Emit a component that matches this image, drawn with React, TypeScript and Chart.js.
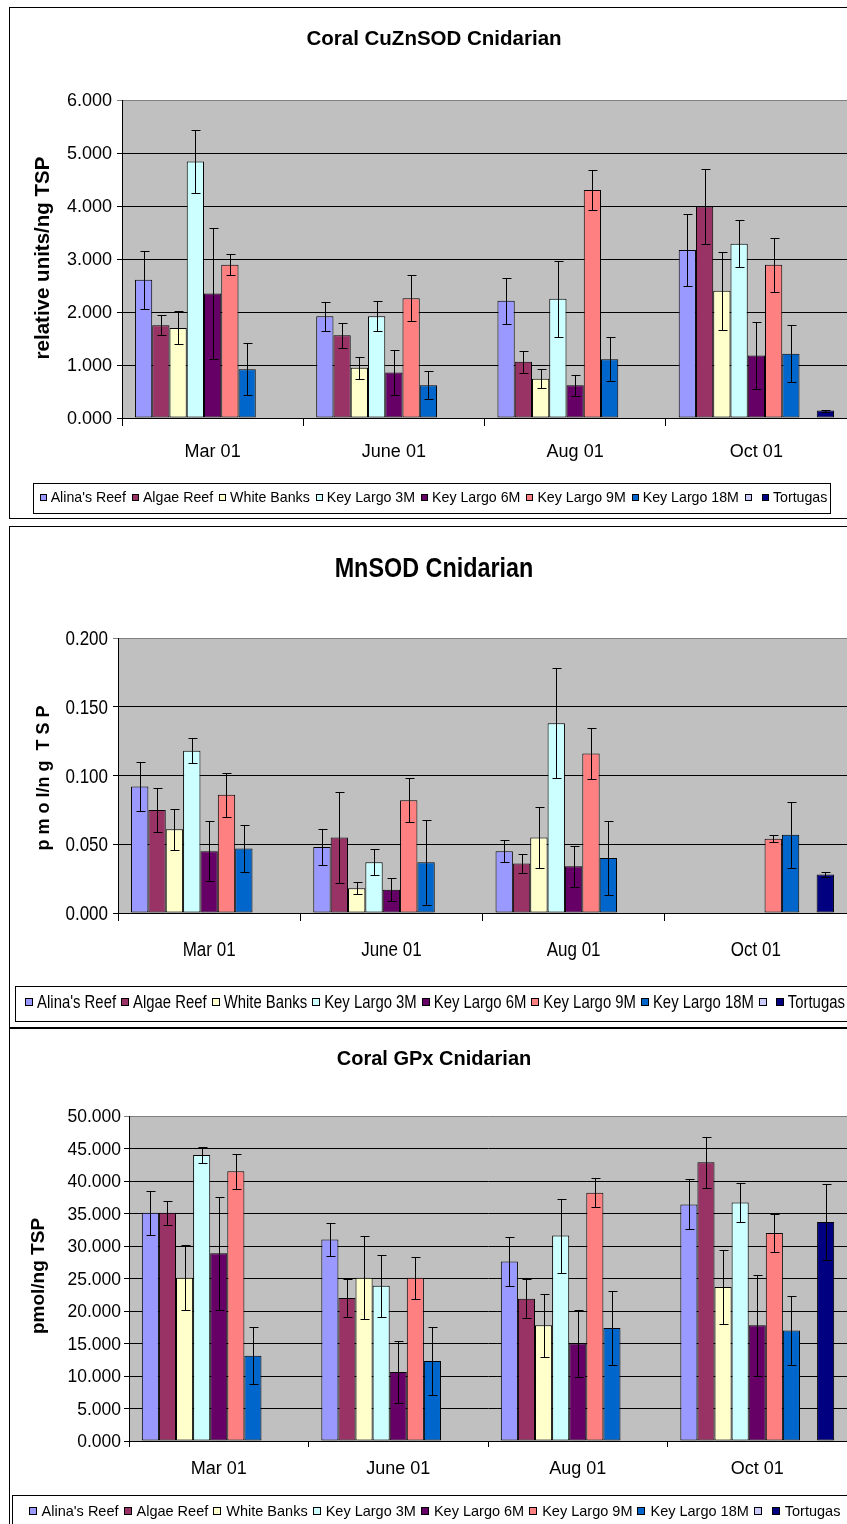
import React, { useEffect, useRef } from 'react';
import { Chart, registerables } from 'chart.js';

Chart.register(...registerables);

// ---------- shared data ----------
const categories = ['Mar 01', 'June 01', 'Aug 01', 'Oct 01'];
const seriesNames = ["Alina's Reef", 'Algae Reef', 'White Banks', 'Key Largo 3M', 'Key Largo 6M', 'Key Largo 9M', 'Key Largo 18M', '', 'Tortugas'];
const seriesColors = ['#9999FF', '#993366', '#FFFFCC', '#CCFFFF', '#660066', '#FF8080', '#0066CC', '#CCCCFF', '#000080'];

// ---------- Coral CuZnSOD Cnidarian ----------
const cuAlina = [2.61, 1.92, 2.21, 3.17];
const cuAlgae = [1.75, 1.56, 1.06, 3.99];
const cuWhite = [1.70, 0.95, 0.74, 2.40];
const cuKL3 = [4.84, 1.92, 2.25, 3.29];
const cuKL6 = [2.35, 0.86, 0.62, 1.18];
const cuKL9 = [2.89, 2.26, 4.30, 2.89];
const cuKL18 = [0.92, 0.62, 1.11, 1.21];
const cuBlank = [null, null, null, null];
const cuTort = [null, null, null, 0.14];
const cuAlinaErr = [0.55, 0.27, 0.43, 0.67];
const cuAlgaeErr = [0.19, 0.24, 0.21, 0.70];
const cuWhiteErr = [0.31, 0.21, 0.18, 0.74];
const cuKL3Err = [0.60, 0.28, 0.72, 0.44];
const cuKL6Err = [1.24, 0.42, 0.20, 0.64];
const cuKL9Err = [0.20, 0.43, 0.38, 0.51];
const cuKL18Err = [0.49, 0.27, 0.42, 0.54];
const cuBlankErr = [null, null, null, null];
const cuTortErr = [null, null, null, 0.02];
const cuTicks = [0, 1, 2, 3, 4, 5, 6];
const cuTickLabels = ['0.000', '1.000', '2.000', '3.000', '4.000', '5.000', '6.000'];

// ---------- MnSOD Cnidarian ----------
const mnAlina = [0.092, 0.048, 0.045, null];
const mnAlgae = [0.075, 0.055, 0.036, null];
const mnWhite = [0.061, 0.018, 0.055, null];
const mnKL3 = [0.118, 0.037, 0.138, null];
const mnKL6 = [0.045, 0.017, 0.034, null];
const mnKL9 = [0.086, 0.082, 0.116, 0.054];
const mnKL18 = [0.047, 0.037, 0.040, 0.057];
const mnBlank = [null, null, null, null];
const mnTort = [null, null, null, 0.028];
const mnAlinaErr = [0.018, 0.013, 0.008, null];
const mnAlgaeErr = [0.016, 0.033, 0.007, null];
const mnWhiteErr = [0.015, 0.0045, 0.022, null];
const mnKL3Err = [0.009, 0.0095, 0.040, null];
const mnKL6Err = [0.022, 0.0085, 0.015, null];
const mnKL9Err = [0.016, 0.016, 0.0185, 0.0025];
const mnKL18Err = [0.017, 0.031, 0.027, 0.024];
const mnBlankErr = [null, null, null, null];
const mnTortErr = [null, null, null, 0.002];
const mnTicks = [0, 0.05, 0.1, 0.15, 0.2];
const mnTickLabels = ['0.000', '0.050', '0.100', '0.150', '0.200'];

// ---------- Coral GPx Cnidarian ----------
const gpAlina = [35.1, 31.0, 27.6, 36.4];
const gpAlgae = [35.1, 22.0, 21.9, 42.9];
const gpWhite = [25.1, 25.1, 17.8, 23.7];
const gpKL3 = [44.0, 23.9, 31.6, 36.7];
const gpKL6 = [28.9, 10.6, 15.0, 17.8];
const gpKL9 = [41.5, 25.1, 38.2, 32.0];
const gpKL18 = [13.1, 12.3, 17.4, 17.0];
const gpBlank = [null, null, null, null];
const gpTort = [null, null, null, 33.7];
const gpAlinaErr = [3.4, 2.6, 3.8, 3.85];
const gpAlgaeErr = [1.8, 2.95, 2.95, 3.9];
const gpWhiteErr = [5.0, 6.4, 4.8, 5.7];
const gpKL3Err = [1.2, 4.75, 5.7, 3.05];
const gpKL6Err = [8.7, 4.75, 5.1, 7.8];
const gpKL9Err = [2.7, 3.2, 2.2, 2.85];
const gpKL18Err = [4.4, 5.2, 5.7, 5.25];
const gpBlankErr = [null, null, null, null];
const gpTortErr = [null, null, null, 5.9];
const gpTicks = [0, 5, 10, 15, 20, 25, 30, 35, 40, 45, 50];
const gpTickLabels = ['0.000', '5.000', '10.000', '15.000', '20.000', '25.000', '30.000', '35.000', '40.000', '45.000', '50.000'];

const FAMILY = "'Liberation Sans', Arial, Helvetica, sans-serif";

type Spec = {
  title: string;
  yTitle: string;
  values: (number | null)[][];
  errs: (number | null)[][];
  ticks: number[];
  tickLabels: string[];
  canvas: { x: number; y: number; w: number; h: number };
  pad: { left: number; top: number; bottom: number };
  hs: number;
  titleFont: string;
  titlePos: [number, number];
  yTitleFont: string;
  yTitleSize: number;
  yTitlePos: [number, number];
  tickSize: number;
  tickGap: number;
  catSize: number;
  catY: number;
  xTickLen: number;
  legend: { size: number; m: number; gap: number; itemGap: number; cx: number; cy: number; box: [number, number, number, number] };
};

function drawText(ctx: CanvasRenderingContext2D, text: string, x: number, y: number, font: string, align: CanvasTextAlign, hs: number) {
  ctx.save();
  ctx.translate(x, y);
  ctx.scale(hs, 1);
  ctx.font = font;
  ctx.textAlign = align;
  ctx.textBaseline = 'alphabetic';
  ctx.fillStyle = '#000';
  ctx.fillText(text, 0, 0);
  ctx.restore();
}

function makeDecor(spec: Spec) {
  return {
    id: 'decor',
    beforeDraw(chart: any) {
      const { ctx, chartArea: a } = chart;
      ctx.save();
      ctx.fillStyle = '#C0C0C0';
      ctx.fillRect(a.left, a.top, a.right - a.left, a.bottom - a.top);
      ctx.restore();
    },
    afterDatasetsDraw(chart: any) {
      const ctx = chart.ctx;
      const ys = chart.scales.y;
      ctx.save();
      ctx.strokeStyle = '#000';
      ctx.lineWidth = 1;
      spec.values.forEach((vals, di) => {
        const meta = chart.getDatasetMeta(di);
        vals.forEach((v, j) => {
          const e = spec.errs[di][j];
          if (v == null || e == null) return;
          const el = meta.data[j];
          const x = Math.round(el.x) + 0.5;
          const y1 = Math.round(ys.getPixelForValue(v + e)) + 0.5;
          const y2 = Math.round(ys.getPixelForValue(Math.max(0, v - e))) + 0.5;
          ctx.beginPath();
          ctx.moveTo(x, y1);
          ctx.lineTo(x, y2);
          ctx.moveTo(x - 4, y1);
          ctx.lineTo(x + 5, y1);
          ctx.moveTo(x - 4, y2);
          ctx.lineTo(x + 5, y2);
          ctx.stroke();
        });
      });
      ctx.restore();
    },
    afterDraw(chart: any) {
      const ctx = chart.ctx;
      const a = chart.chartArea;
      const hs = spec.hs;
      // title
      drawText(ctx, spec.title, spec.titlePos[0], spec.titlePos[1], spec.titleFont, 'center', hs);
      // y title
      ctx.save();
      ctx.translate(spec.yTitlePos[0], spec.yTitlePos[1]);
      ctx.rotate(-Math.PI / 2);
      ctx.font = spec.yTitleFont;
      ctx.textAlign = 'center';
      ctx.textBaseline = 'alphabetic';
      ctx.fillStyle = '#000';
      ctx.fillText(spec.yTitle, 0, spec.yTitleSize * 0.33);
      ctx.restore();
      // y tick labels
      const ys = chart.scales.y;
      spec.ticks.forEach((v, i) => {
        const y = ys.getPixelForValue(v);
        drawText(ctx, spec.tickLabels[i], a.left - spec.tickGap, y + spec.tickSize * 0.358, `${spec.tickSize}px ${FAMILY}`, 'right', hs);
      });
      // category labels
      const xs = chart.scales.x;
      categories.forEach((c, i) => {
        const x = xs.getPixelForTick(i);
        drawText(ctx, c, x, spec.catY + spec.catSize * 0.358, `${spec.catSize}px ${FAMILY}`, 'center', hs);
      });
      // legend
      const L = spec.legend;
      ctx.save();
      ctx.font = `${L.size}px ${FAMILY}`;
      const widths = seriesNames.map((n) => L.m + L.gap + ctx.measureText(n).width * hs);
      const total = widths.reduce((s, w) => s + w, 0) + L.itemGap * (seriesNames.length - 1) - L.gap;
      let x = L.cx - total / 2;
      ctx.restore();
      seriesNames.forEach((n, i) => {
        const mx = Math.round(x);
        const my = Math.round(L.cy - L.m / 2);
        ctx.save();
        ctx.fillStyle = seriesColors[i];
        ctx.fillRect(mx, my, L.m, L.m);
        ctx.strokeStyle = '#000';
        ctx.lineWidth = 1;
        ctx.strokeRect(mx + 0.5, my + 0.5, L.m - 1, L.m - 1);
        ctx.restore();
        if (n) drawText(ctx, n, x + L.m + L.gap, L.cy + L.size * 0.358, `${L.size}px ${FAMILY}`, 'left', hs);
        x += widths[i] + L.itemGap;
      });
      ctx.save();
      ctx.strokeStyle = '#000';
      ctx.lineWidth = 1;
      ctx.strokeRect(L.box[0] + 0.5, L.box[1] + 0.5, L.box[2], L.box[3]);
      ctx.restore();
    },
  };
}

function buildConfig(spec: Spec): any {
  const max = spec.ticks[spec.ticks.length - 1];
  return {
    type: 'bar',
    data: {
      labels: categories,
      datasets: seriesNames.map((name, i) => ({
        label: name,
        data: spec.values[i],
        backgroundColor: seriesColors[i],
        borderColor: '#000',
        borderWidth: 1,
        borderSkipped: false,
        categoryPercentage: 0.857,
        barPercentage: 1,
      })),
    },
    options: {
      responsive: false,
      maintainAspectRatio: false,
      animation: false,
      events: [],
      layout: { padding: { left: spec.pad.left, top: spec.pad.top, right: 0, bottom: spec.pad.bottom } },
      plugins: { legend: { display: false }, title: { display: false }, tooltip: { enabled: false } },
      scales: {
        x: {
          type: 'category',
          offset: true,
          grid: { offset: true, drawOnChartArea: false, drawTicks: true, tickLength: spec.xTickLen, color: '#000', lineWidth: 1 },
          border: { display: true, color: '#000', width: 1 },
          ticks: { display: false },
          afterFit: (s: any) => { s.height = 30; },
        },
        y: {
          min: 0,
          max,
          afterBuildTicks: (s: any) => { s.ticks = spec.ticks.map((v) => ({ value: v })); },
          grid: {
            drawTicks: true,
            tickLength: 5,
            lineWidth: 1,
            color: (c: any) => (c.tick && Math.abs(c.tick.value - max) < 1e-9 ? '#808080' : '#000'),
          },
          border: { display: true, color: '#000', width: 1 },
          ticks: { display: false },
          afterFit: (s: any) => { s.width = 40; },
        },
      },
    },
    plugins: [makeDecor(spec)],
  };
}

const specs: Spec[] = [
  {
    title: 'Coral CuZnSOD Cnidarian',
    yTitle: 'relative units/ng TSP',
    values: [cuAlina, cuAlgae, cuWhite, cuKL3, cuKL6, cuKL9, cuKL18, cuBlank, cuTort],
    errs: [cuAlinaErr, cuAlgaeErr, cuWhiteErr, cuKL3Err, cuKL6Err, cuKL9Err, cuKL18Err, cuBlankErr, cuTortErr],
    ticks: cuTicks,
    tickLabels: cuTickLabels,
    canvas: { x: 10, y: 8, w: 837, h: 510 },
    pad: { left: 72, top: 92, bottom: 70 },
    hs: 1,
    titleFont: `bold 20.5px ${FAMILY}`,
    titlePos: [424, 30 + 7],
    yTitleFont: `bold 20.5px ${FAMILY}`,
    yTitleSize: 20.5,
    yTitlePos: [32, 250],
    tickSize: 18,
    tickGap: 10,
    catSize: 18,
    catY: 443,
    xTickLen: 8,
    legend: { size: 14.2, m: 7, gap: 4, itemGap: 6, cx: 421.5, cy: 489, box: [23, 475, 797, 30] },
  },
  {
    title: 'MnSOD Cnidarian',
    yTitle: 'p m o l/n g  T S P',
    values: [mnAlina, mnAlgae, mnWhite, mnKL3, mnKL6, mnKL9, mnKL18, mnBlank, mnTort],
    errs: [mnAlinaErr, mnAlgaeErr, mnWhiteErr, mnKL3Err, mnKL6Err, mnKL9Err, mnKL18Err, mnBlankErr, mnTortErr],
    ticks: mnTicks,
    tickLabels: mnTickLabels,
    canvas: { x: 10, y: 527, w: 837, h: 499 },
    pad: { left: 68, top: 111, bottom: 83 },
    hs: 0.85,
    titleFont: `bold 27.5px ${FAMILY}`,
    titlePos: [424, 40 + 10],
    yTitleFont: `bold 18px ${FAMILY}`,
    yTitleSize: 18,
    yTitlePos: [33, 251],
    tickSize: 20,
    tickGap: 10,
    catSize: 20,
    catY: 422,
    xTickLen: 8,
    legend: { size: 17.5, m: 8, gap: 4, itemGap: 5, cx: 423, cy: 475, box: [5, 459, 900, 35] },
  },
  {
    title: 'Coral GPx Cnidarian',
    yTitle: 'pmol/ng TSP',
    values: [gpAlina, gpAlgae, gpWhite, gpKL3, gpKL6, gpKL9, gpKL18, gpBlank, gpTort],
    errs: [gpAlinaErr, gpAlgaeErr, gpWhiteErr, gpKL3Err, gpKL6Err, gpKL9Err, gpKL18Err, gpBlankErr, gpTortErr],
    ticks: gpTicks,
    tickLabels: gpTickLabels,
    canvas: { x: 10, y: 1029, w: 837, h: 495 },
    pad: { left: 79, top: 87, bottom: 53 },
    hs: 1,
    titleFont: `bold 20px ${FAMILY}`,
    titlePos: [424, 29 + 7],
    yTitleFont: `bold 19px ${FAMILY}`,
    yTitleSize: 19,
    yTitlePos: [28, 247],
    tickSize: 17.5,
    tickGap: 8,
    catSize: 18,
    catY: 439,
    xTickLen: 6,
    legend: { size: 14.5, m: 8, gap: 5, itemGap: 5, cx: 422, cy: 482, box: [2, 466, 900, 40] },
  },
];

function ChartPanel({ spec }: { spec: Spec }) {
  const ref = useRef<HTMLCanvasElement | null>(null);
  useEffect(() => {
    if (!ref.current) return;
    const chart = new Chart(ref.current, buildConfig(spec));
    return () => chart.destroy();
  }, [spec]);
  const c = spec.canvas;
  return (
    <canvas
      ref={ref}
      width={c.w}
      height={c.h}
      style={{ position: 'absolute', left: c.x, top: c.y, width: c.w, height: c.h, display: 'block' }}
    />
  );
}

const panelBoxes = [
  { top: 7, height: 512 },
  { top: 526, height: 502 },
  { top: 1028, height: 600 },
];

export default function App() {
  return (
    <div style={{ position: 'absolute', left: 0, top: 0, width: 847, height: 1524, overflow: 'hidden', background: '#fff' }}>
      {panelBoxes.map((b, i) => (
        <div
          key={'p' + i}
          style={{ position: 'absolute', left: 9, top: b.top, width: 900, height: b.height, boxSizing: 'border-box', border: '1px solid #000', background: '#fff' }}
        />
      ))}
      {specs.map((s, i) => (
        <ChartPanel key={'c' + i} spec={s} />
      ))}
    </div>
  );
}
